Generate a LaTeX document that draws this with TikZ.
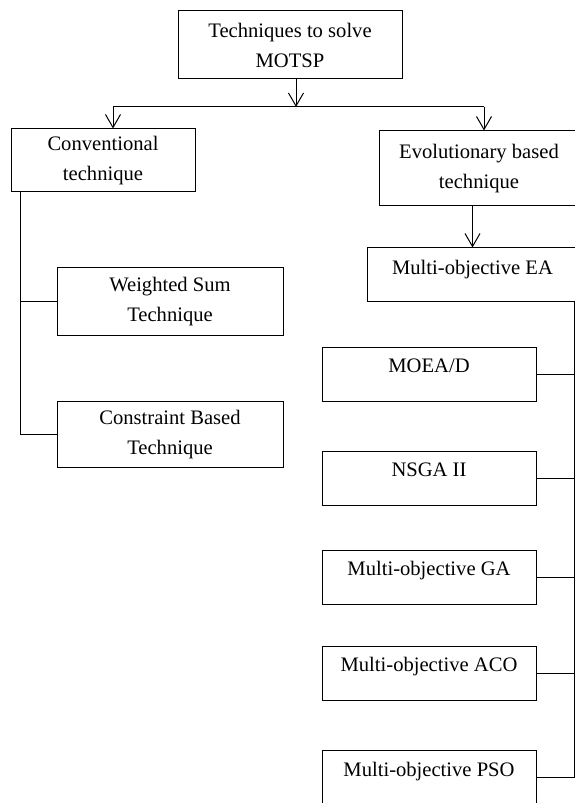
\documentclass[tikz,border=0pt]{standalone}
\usepackage{fontspec}
\setmainfont{Liberation Serif}
\usepackage{tikz}
\usetikzlibrary{arrows.meta,positioning}

\begin{document}
\begin{tikzpicture}[
    x=1pt, y=1pt,
    box/.style={draw, line width=1pt, align=center, inner sep=0pt, font=\fontsize{20.6}{30}\selectfont},
    onebox/.style={box, minimum width=214pt, minimum height=54pt, text height=14pt, text depth=18pt},
    arr/.style={-{Straight Barb[length=13pt, width=15pt]}, line width=1pt},
    link/.style={line width=1pt}
]
\clip (0,0) rectangle (575,803);
\node[box, minimum width=224pt, minimum height=68pt] (top) at (290,758) {Techniques to solve\\ MOTSP};
\node[box, minimum width=184pt, minimum height=63pt] (conv) at (103,642.5) {Conventional\\ technique};
\node[box, minimum width=200pt, minimum height=75pt] (evol) at (479,634.5) {Evolutionary based\\ technique};
\node[onebox, minimum width=211pt, text depth=15.6pt] (ea) at (472.5,528) {Multi-objective EA};
\node[box, minimum width=226pt, minimum height=68pt] (ws) at (170,501) {Weighted Sum\\ Technique};
\node[box, minimum width=226pt, minimum height=66pt] (cb) at (170,368) {Constraint Based\\ Technique};
\node[onebox] (moead) at (429,428) {MOEA/D};
\node[onebox] (nsga) at (429,324) {NSGA II};
\node[onebox] (ga) at (429,225) {Multi-objective GA};
\node[onebox] (aco) at (429,129) {Multi-objective ACO};
\node[onebox] (pso) at (429,25) {Multi-objective PSO};
% junctions
\coordinate (jn) at (296,696);
\coordinate (cl) at (113,696);
\coordinate (cr) at (484,696);
\coordinate (lt) at (20,0);
\coordinate (rt) at (574,0);
\draw[arr] (jn |- top.south) -- (jn);
\draw[link] (cl) -- (cr);
\draw[arr] (cl) -- (cl |- conv.north);
\draw[arr] (cr) -- (cr |- evol.north);
\draw[arr] (ea.north |- evol.south) -- (ea.north);
% left branch
\draw[link] (conv.south -| lt) |- (ws.west);
\draw[link] (ws.west -| lt) |- (cb.west);
% right branch
\draw[link] (ea.south -| rt) -- (pso.east -| rt);
\draw[link] (moead.east) -- (moead.east -| rt);
\draw[link] (nsga.east) -- (nsga.east -| rt);
\draw[link] (ga.east) -- (ga.east -| rt);
\draw[link] (aco.east) -- (aco.east -| rt);
\draw[link] (pso.east) -- (pso.east -| rt);
\end{tikzpicture}
\end{document}
